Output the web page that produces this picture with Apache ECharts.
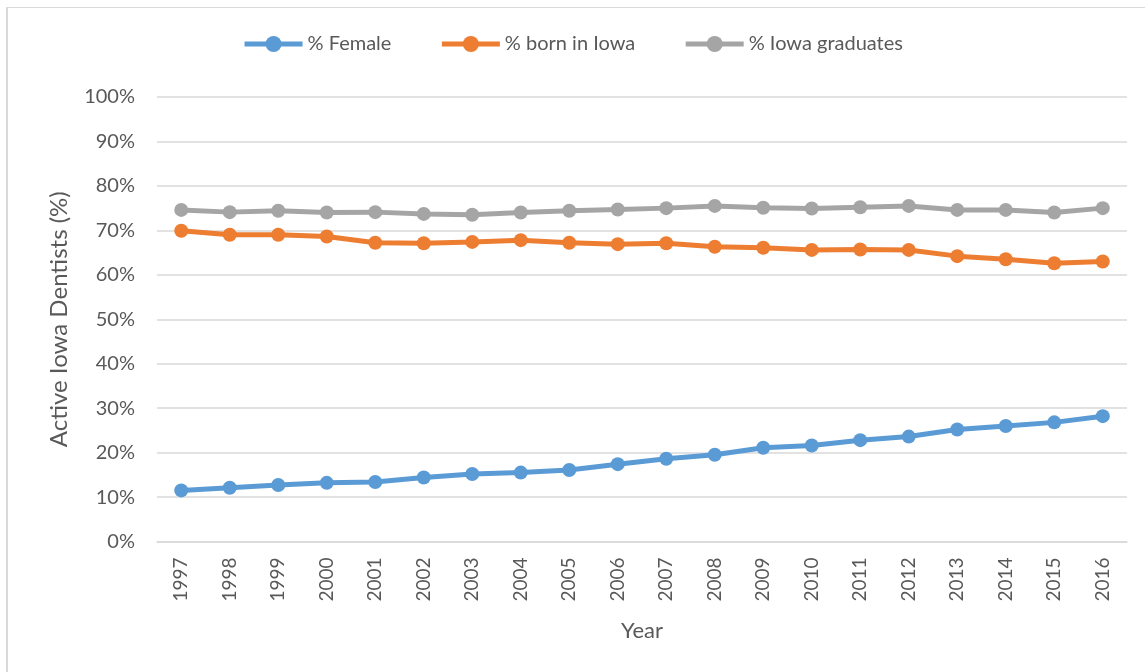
<!DOCTYPE html>
<html>
<head>
<meta charset="utf-8">
<script src="https://cdn.jsdelivr.net/npm/echarts@6/dist/echarts.min.js"></script>
<style>
  html, body { margin: 0; padding: 0; background: #fff; overflow: hidden; }
  #frame { position: absolute; left: 6px; top: 7px; width: 1200px; height: 720px; border-left: 2px solid #d9d9d9; border-top: 1px solid #d9d9d9; }
  #chart { position: absolute; left: 0; top: 0; width: 1145px; height: 672px; }
</style>
</head>
<body>
<div id="frame"></div>
<div id="chart"></div>
<script>
  // years on the x axis
  const years = ['1997', '1998', '1999', '2000', '2001', '2002', '2003', '2004', '2005', '2006',
    '2007', '2008', '2009', '2010', '2011', '2012', '2013', '2014', '2015', '2016'];

  // % of active Iowa dentists
  const female = [11.5, 12.1, 12.7, 13.2, 13.4, 14.4, 15.2, 15.5, 16.1, 17.4,
    18.6, 19.5, 21.1, 21.6, 22.8, 23.6, 25.2, 26.0, 26.8, 28.2];
  const bornInIowa = [69.9, 69.0, 69.0, 68.6, 67.2, 67.1, 67.4, 67.8, 67.2, 66.9,
    67.1, 66.3, 66.1, 65.6, 65.7, 65.6, 64.2, 63.5, 62.6, 63.0];
  const iowaGrads = [74.6, 74.1, 74.4, 74.0, 74.1, 73.7, 73.5, 74.0, 74.4, 74.7,
    75.0, 75.5, 75.1, 74.9, 75.2, 75.5, 74.6, 74.6, 74.0, 75.0];

  const seriesNames = ['% Female', '% born in Iowa', '% Iowa graduates'];
  const colors = ['#5B9BD5', '#ED7D31', '#A5A5A5'];
  const font = 'Lato, "Open Sans", sans-serif';

  const chart = echarts.init(document.getElementById('chart'));

  function line (name, data, color) {
    return {
      name: name,
      type: 'line',
      data: data,
      symbol: 'circle',
      symbolSize: 14,
      lineStyle: { width: 5, color: color },
      itemStyle: { color: color },
      animation: false
    };
  }

  chart.setOption({
    animation: false,
    color: colors,
    textStyle: { fontFamily: font },
    legend: {
      top: 29,
      left: 'center',
      itemGap: 48,
      itemWidth: 58,
      itemHeight: 20,
      lineStyle: { width: 5 },
      textStyle: { fontSize: 20, color: '#595959', fontFamily: font },
      data: seriesNames
    },
    grid: {
      left: 157,
      right: 18,
      top: 97,
      bottom: 130.5
    },
    xAxis: {
      type: 'category',
      data: years,
      name: 'Year',
      nameLocation: 'middle',
      nameGap: 78,
      nameTextStyle: { fontSize: 22, color: '#595959', fontFamily: font },
      axisLine: { lineStyle: { color: '#d9d9d9', width: 1.5 } },
      axisTick: { show: false },
      axisLabel: { rotate: 90, fontSize: 19, color: '#595959', margin: 16, fontFamily: font }
    },
    yAxis: {
      type: 'value',
      min: 0,
      max: 100,
      interval: 10,
      name: 'Active Iowa Dentists (%)',
      nameLocation: 'middle',
      nameGap: 86,
      nameTextStyle: { fontSize: 24, color: '#595959', fontFamily: font },
      axisLine: { show: false },
      axisTick: { show: false },
      axisLabel: { formatter: '{value}%', fontSize: 20, color: '#595959', margin: 22, fontFamily: font },
      splitLine: { lineStyle: { color: '#d9d9d9', width: 1.5 } }
    },
    series: [
      line(seriesNames[0], female, colors[0]),
      line(seriesNames[1], bornInIowa, colors[1]),
      line(seriesNames[2], iowaGrads, colors[2])
    ]
  });
</script>
</body>
</html>
